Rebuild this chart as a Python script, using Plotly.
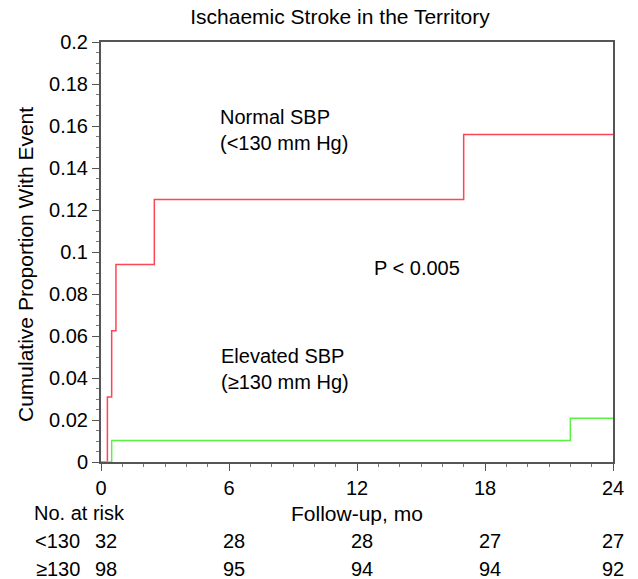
import plotly.graph_objects as go

# Data
normal_t = [0, 0.3, 0.5, 0.7, 2.5, 17, 24]
normal_p = [0, 0.031, 0.0625, 0.094, 0.125, 0.156, 0.156]
elev_t = [0, 0.5, 22, 24]
elev_p = [0, 0.0102, 0.0208, 0.0208]

risk_times = [0, 6, 12, 18, 24]
risk_normal = [32, 28, 28, 27, 27]
risk_elev = [98, 95, 94, 94, 92]
x_ticks = [0, 6, 12, 18, 24]
y_ticks = [0, 0.02, 0.04, 0.06, 0.08, 0.1, 0.12, 0.14, 0.16, 0.18, 0.2]
y_ticklabels = ["0", "0.02", "0.04", "0.06", "0.08", "0.1", "0.12", "0.14", "0.16", "0.18", "0.2"]

FONT = "Liberation Sans, Arial, Helvetica, sans-serif"
FS = 20

fig = go.Figure()
fig.add_trace(go.Scatter(x=normal_t, y=normal_p, mode="lines", line=dict(color="#ff4455", width=1.5, shape="hv"), showlegend=False))
fig.add_trace(go.Scatter(x=elev_t, y=elev_p, mode="lines", line=dict(color="#5af046", width=1.5, shape="hv"), showlegend=False))

ax_common = dict(showline=True, linecolor="#555555", linewidth=2, mirror=True, showgrid=False, zeroline=False,
                 ticks="outside", ticklen=7, tickwidth=1, tickcolor="#555555",
                 tickfont=dict(family=FONT, size=FS, color="black"))

fig.update_xaxes(range=[0, 24], tickvals=x_ticks, ticktext=[str(v) for v in x_ticks],
                 minor=dict(dtick=1, ticks="outside", ticklen=3, tickcolor="#777777"), **ax_common)
fig.update_yaxes(range=[0, 0.2], tickvals=y_ticks, ticktext=y_ticklabels,
                 minor=dict(dtick=0.005, ticks="outside", ticklen=3, tickcolor="#777777"),
                 **ax_common)

def px_x(pix):
    return (pix - 101) / 512.0

def py(pix):
    return (462 - pix) / 420.0

ann = []
ann.append(dict(x=px_x(25), y=py(265), xref="paper", yref="paper", text="Cumulative Proportion With Event",
                textangle=-90, showarrow=False, xanchor="center", yanchor="middle", fs=21))
ann.append(dict(x=px_x(218), y=py(130), xref="paper", yref="paper", text="Normal SBP<br>(<130 mm Hg)", showarrow=False,
                xanchor="left", yanchor="middle", align="left"))
ann.append(dict(x=px_x(372), y=py(268), xref="paper", yref="paper", text="P < 0.005", showarrow=False,
                xanchor="left", yanchor="middle", align="left"))
ann.append(dict(x=px_x(219), y=py(369), xref="paper", yref="paper", text="Elevated SBP<br>(≥130 mm Hg)", showarrow=False,
                xanchor="left", yanchor="middle", align="left"))

ann.append(dict(x=px_x(32), y=py(513), xref="paper", yref="paper", text="No. at risk", showarrow=False,
                xanchor="left", yanchor="middle"))
ann.append(dict(x=12, y=py(513), xref="x", yref="paper", text="Follow-up, mo", showarrow=False,
                xanchor="center", yanchor="middle", fs=21))
ann.append(dict(x=px_x(33), y=py(541), xref="paper", yref="paper", text="<130", showarrow=False, xanchor="left", yanchor="middle"))
ann.append(dict(x=px_x(34), y=py(569), xref="paper", yref="paper", text="≥130", showarrow=False, xanchor="left", yanchor="middle"))
for t, n1, n2 in zip(risk_times, risk_normal, risk_elev):
    xt = t + (0.23 if t < 24 else 0)
    ann.append(dict(x=xt, y=py(541), xref="x", yref="paper", text=str(n1), showarrow=False, xanchor="center", yanchor="middle"))
    ann.append(dict(x=xt, y=py(569), xref="x", yref="paper", text=str(n2), showarrow=False, xanchor="center", yanchor="middle"))

for a in ann:
    size = a.pop("fs", FS)
    a["font"] = dict(family=FONT, size=size, color="black")

fig.update_layout(
    width=638, height=579,
    margin=dict(l=101, r=25, t=42, b=117),
    paper_bgcolor="white", plot_bgcolor="white",
    title=dict(text="Ischaemic Stroke in the Territory", x=340 / 638, xanchor="center", y=1 - 17 / 579, yanchor="middle",
               font=dict(family=FONT, size=21, color="black")),
    annotations=ann,
)

fig.write_html("out.html", config={"displayModeBar": False}, post_script="document.body.style.margin='0';")
